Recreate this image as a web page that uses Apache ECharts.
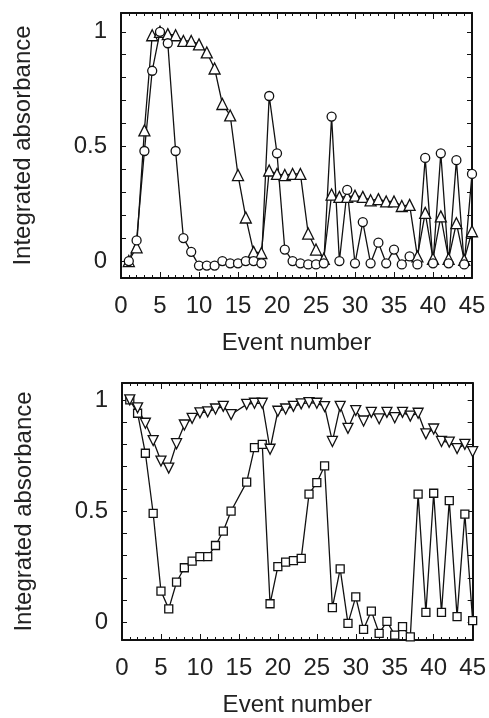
<!DOCTYPE html>
<html>
<head>
<meta charset="utf-8">
<script src="https://cdn.jsdelivr.net/npm/echarts@6/dist/echarts.min.js"></script>
<style>
  html, body { margin: 0; padding: 0; background: #fff; }
  #chart { width: 489px; height: 718px; }
</style>
</head>
<body>
<div id="chart"></div>
<script>
// event numbers (x)
var events = [1, 2, 3, 4, 5, 6, 7, 8, 9, 10, 11, 12, 13, 14, 15, 16, 17, 18, 19, 20,
  21, 22, 23, 24, 25, 26, 27, 28, 29, 30, 31, 32, 33, 34, 35, 36, 37, 38, 39, 40,
  41, 42, 43, 44, 45];

// upper panel
var topCircles = [0, 0.09, 0.48, 0.83, 1.0, 0.95, 0.48, 0.1, 0.04, -0.02,
  -0.02, -0.02, 0.0, -0.01, -0.01, 0.0, 0.0, -0.01, 0.72, 0.47,
  0.05, 0.0, -0.01, -0.015, -0.015, -0.01, 0.63, 0.0, 0.31, -0.01,
  0.17, -0.01, 0.08, -0.01, 0.05, -0.015, 0.02, -0.015, 0.45, -0.01,
  0.47, -0.01, 0.44, -0.015, 0.38];
var topTriangles = [0, 0.06, 0.57, 0.985, 1.0, 0.99, 0.985, 0.96, 0.96, 0.945,
  0.91, 0.84, 0.685, 0.635, 0.375, 0.19, 0.04, 0.035, 0.395, 0.38,
  0.375, 0.38, 0.38, 0.12, 0.05, 0.01, 0.29, 0.28, 0.28, 0.285,
  0.28, 0.265, 0.27, 0.26, 0.26, 0.24, 0.245, 0.02, 0.21, 0.01,
  0.195, 0.01, 0.165, 0.005, 0.13];

// lower panel (no point at event 15)
var bottomSquares = [1.0, 0.94, 0.76, 0.49, 0.14, 0.06, 0.18, 0.245, 0.275, 0.295,
  0.295, 0.345, 0.41, 0.5, null, 0.63, 0.785, 0.8, 0.083, 0.25,
  0.27, 0.277, 0.287, 0.576, 0.628, 0.703, 0.066, 0.24, -0.005, 0.114,
  -0.032, 0.05, -0.05, 0.004, -0.058, -0.02, -0.066, 0.576, 0.044, 0.58,
  0.044, 0.547, 0.025, 0.486, 0.007];
var bottomTriangles = [1.0, 0.964, 0.895, 0.817, 0.725, 0.693, 0.803, 0.887, 0.917, 0.942,
  0.946, 0.959, 0.971, 0.934, null, 0.98, 0.985, 0.985, 0.778, 0.949,
  0.959, 0.971, 0.982, 0.988, 0.985, 0.97, 0.813, 0.971, 0.872, 0.952,
  0.905, 0.944, 0.915, 0.944, 0.92, 0.944, 0.927, 0.94, 0.847, 0.869,
  0.813, 0.81, 0.781, 0.8, 0.767];

// tick labels
var yLabels = [0, 0.5, 1];
var yTicks = [0, 0.1, 0.2, 0.3, 0.4, 0.5, 0.6, 0.7, 0.8, 0.9, 1.0];

var FONT = "'Liberation Sans', Arial, sans-serif";
var INK = '#111';
var TXT = '#222';
var FS = 24;

function pairs(vals) {
  return events.map(function (e, i) { return [e, vals[i]]; });
}

function xAxisFor(gi, pos) {
  return {
    gridIndex: gi,
    type: 'value',
    position: pos,
    min: 0,
    max: 45,
    interval: 5,
    axisLine: { show: true, onZero: false, lineStyle: { color: INK, width: 2 } },
    axisTick: { show: true, inside: true, length: 6, lineStyle: { color: INK, width: 1 } },
    minorTick: { show: true, splitNumber: 5, length: 3, lineStyle: { color: INK, width: 1 } },
    axisLabel: { show: pos === 'bottom', margin: 16, fontSize: FS, color: TXT, fontFamily: FONT },
    splitLine: { show: false },
    name: pos === 'bottom' ? 'Event number' : '',
    nameLocation: 'middle',
    nameGap: 53,
    nameTextStyle: { fontSize: FS, color: TXT, fontFamily: FONT }
  };
}

function yAxisFor(gi, pos, lo, hi) {
  return {
    gridIndex: gi,
    type: 'value',
    position: pos,
    min: lo,
    max: hi,
    axisLine: { show: true, onZero: false, lineStyle: { color: INK, width: 2 } },
    axisTick: { show: true, inside: true, length: 5, customValues: yTicks, lineStyle: { color: INK, width: 1 } },
    axisLabel: {
      show: pos === 'left', margin: 14, fontSize: FS, color: TXT, fontFamily: FONT,
      customValues: yLabels,
      formatter: function (v) { return String(v); }
    },
    splitLine: { show: false },
    name: pos === 'left' ? 'Integrated absorbance' : '',
    nameLocation: 'middle',
    nameRotate: 90,
    nameGap: 86,
    nameTextStyle: { fontSize: FS, color: TXT, fontFamily: FONT }
  };
}

function lineSeries(vals, xi, yi, symbol, size, rotate) {
  return {
    type: 'line',
    xAxisIndex: xi,
    yAxisIndex: yi,
    data: pairs(vals),
    connectNulls: true,
    symbol: symbol,
    symbolSize: size,
    symbolRotate: rotate || 0,
    showAllSymbol: true,
    lineStyle: { color: INK, width: 1.3 },
    itemStyle: { color: '#fff', borderColor: INK, borderWidth: 1.3 },
    animation: false
  };
}

var chart = echarts.init(document.getElementById('chart'));
chart.setOption({
  animation: false,
  backgroundColor: '#fff',
  grid: [
    { left: 121, right: 17, top: 13, height: 265 },
    { left: 122, right: 16, top: 383, height: 264 }
  ],
  xAxis: [
    xAxisFor(0, 'bottom'), xAxisFor(0, 'top'),
    xAxisFor(1, 'bottom'), xAxisFor(1, 'top')
  ],
  yAxis: [
    yAxisFor(0, 'left', -0.074, 1.082), yAxisFor(0, 'right', -0.074, 1.082),
    yAxisFor(1, 'left', -0.08, 1.076), yAxisFor(1, 'right', -0.08, 1.076)
  ],
  series: [
    lineSeries(topTriangles, 0, 0, 'triangle', 11),
    lineSeries(topCircles, 0, 0, 'circle', 9),
    lineSeries(bottomSquares, 2, 2, 'rect', 8),
    lineSeries(bottomTriangles, 2, 2, 'triangle', 10, 180)
  ]
});
</script>
</body>
</html>
